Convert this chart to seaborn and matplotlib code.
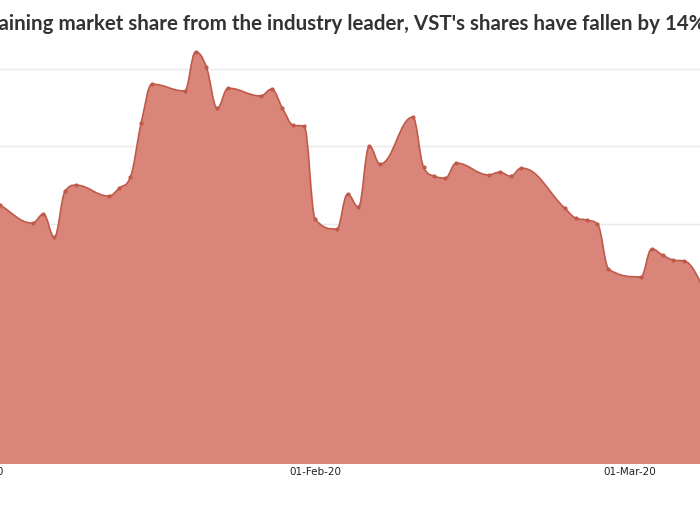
import matplotlib
matplotlib.use("Agg")
import matplotlib.pyplot as plt
import matplotlib.dates as mdates
from matplotlib.path import Path
from matplotlib.patches import PathPatch
import seaborn as sns
import numpy as np
import pandas as pd

# Data (VST share price, Jan-Mar 2020)
dates = ["2020-01-02", "2020-01-03", "2020-01-06", "2020-01-07", "2020-01-08",
         "2020-01-09", "2020-01-10", "2020-01-13", "2020-01-14", "2020-01-15",
         "2020-01-16", "2020-01-17", "2020-01-20", "2020-01-21", "2020-01-22",
         "2020-01-23", "2020-01-24", "2020-01-27", "2020-01-28", "2020-01-29",
         "2020-01-30", "2020-01-31", "2020-02-01", "2020-02-03", "2020-02-04",
         "2020-02-05", "2020-02-06", "2020-02-07", "2020-02-10", "2020-02-11",
         "2020-02-12", "2020-02-13", "2020-02-14", "2020-02-17", "2020-02-18",
         "2020-02-19", "2020-02-20", "2020-02-24", "2020-02-25", "2020-02-26",
         "2020-02-27", "2020-02-28", "2020-03-02", "2020-03-03", "2020-03-04",
         "2020-03-05", "2020-03-06", "2020-03-09"]
price = [20.84, 20.61, 20.03, 20.32, 19.58,
         21.06, 21.25, 20.90, 21.16, 21.51,
         23.25, 24.50, 24.28, 25.53, 25.05,
         23.73, 24.37, 24.12, 24.34, 23.73,
         23.18, 23.15, 20.16, 19.84, 20.96,
         20.55, 22.51, 21.93, 23.44, 21.83,
         21.54, 21.48, 21.96, 21.58, 21.67,
         21.54, 21.80, 20.51, 20.19, 20.13,
         20.00, 18.55, 18.30, 19.20, 19.00,
         18.84, 18.81, 16.70]

tick_dates = ["2020-01-01", "2020-02-01", "2020-03-01"]
tick_labels = ["01-Jan-20", "01-Feb-20", "01-Mar-20"]
grid_values = [12.5, 15.0, 17.5, 20.0, 22.5, 25.0]

title = "Despite gaining market share from the industry leader, VST's shares have fallen by 14%"

LINE_COLOR = "#bf5a4b"
FILL_COLOR = "#d9857a"


def spline_path(xs, ys, smoothing=1.5):
    """Bezier spline through the points (same control-point rule as a
    typical 'areaspline' chart), returned as vertices + codes."""
    n = len(xs)
    conts = []
    for i in range(n):
        if 0 < i < n - 1:
            lx = (smoothing * xs[i] + xs[i - 1]) / (smoothing + 1)
            ly = (smoothing * ys[i] + ys[i - 1]) / (smoothing + 1)
            rx = (smoothing * xs[i] + xs[i + 1]) / (smoothing + 1)
            ry = (smoothing * ys[i] + ys[i + 1]) / (smoothing + 1)
            corr = (ry - ly) * (rx - xs[i]) / (rx - lx) + ys[i] - ry
            ly += corr
            ry += corr
            # avoid overshooting neighbours
            if ly > ys[i - 1] and ly > ys[i]:
                ly = max(ys[i - 1], ys[i]); ry = 2 * ys[i] - ly
            elif ly < ys[i - 1] and ly < ys[i]:
                ly = min(ys[i - 1], ys[i]); ry = 2 * ys[i] - ly
            if ry > ys[i + 1] and ry > ys[i]:
                ry = max(ys[i + 1], ys[i]); ly = 2 * ys[i] - ry
            elif ry < ys[i + 1] and ry < ys[i]:
                ry = min(ys[i + 1], ys[i]); ly = 2 * ys[i] - ry
            conts.append(((lx, ly), (rx, ry)))
        else:
            conts.append(((xs[i], ys[i]), (xs[i], ys[i])))
    verts = [(xs[0], ys[0])]
    codes = [Path.MOVETO]
    for i in range(1, n):
        verts += [conts[i - 1][1], conts[i][0], (xs[i], ys[i])]
        codes += [Path.CURVE4] * 3
    return verts, codes


df = pd.DataFrame({"date": pd.to_datetime(dates), "price": price})

sns.set_theme(style="white")
plt.rcParams["font.family"] = ["DejaVu Sans"]

fig = plt.figure(figsize=(7, 5.25), dpi=100)
# plot area runs past the left/right edges like in the reference crop
ax = fig.add_axes([0, 61 / 525, 1, 424 / 525])

y_min, y_max = 12.28, 25.92

# markers via seaborn (also registers the date axis)
sns.scatterplot(data=df, x="date", y="price", ax=ax, color=LINE_COLOR, s=9,
                linewidth=0, zorder=4)

# smooth area + line
xs = mdates.date2num(df["date"])
ys = df["price"].to_numpy()
verts, codes = spline_path(xs, ys)
area_verts = verts + [(xs[-1], y_min), (xs[0], y_min), (xs[0], ys[0])]
area_codes = codes + [Path.LINETO, Path.LINETO, Path.CLOSEPOLY]
ax.add_patch(PathPatch(Path(area_verts, area_codes), facecolor=FILL_COLOR,
                       edgecolor="none", zorder=2))
ax.add_patch(PathPatch(Path(verts, codes), facecolor="none",
                       edgecolor=LINE_COLOR, lw=1.2, zorder=3))

# axes styling
ax.set_yticks(grid_values)
ax.set_yticklabels([])
ax.grid(axis="y", color="#e9e9e9", lw=1)
ax.grid(axis="x", visible=False)
ax.set_axisbelow(True)
for s in ax.spines.values():
    s.set_visible(False)
ax.tick_params(axis="y", length=0)
ax.set_xlabel("")
ax.set_ylabel("")

# x labels placed at their dates (01-Jan sits just left of the visible area)
ax.set_xticks([])
for d, lab in zip(pd.to_datetime(tick_dates), tick_labels):
    ax.text(mdates.date2num(d), -0.006, lab, transform=ax.get_xaxis_transform(),
            ha="center", va="top", fontsize=7.5, color="#222222", clip_on=False)

# limits last
px_per_day = 315 / 29
feb1 = mdates.date2num(pd.Timestamp("2020-02-01"))
ax.set_xlim(feb1 - 315 / px_per_day, feb1 + 385 / px_per_day)
ax.set_ylim(y_min, y_max)

fig.text(705 / 700, 0.943, title, ha="right", va="baseline", fontsize=14.72,
         fontweight="bold", family="Lato", color="#333333")

fig.savefig("out.png", dpi=100)
